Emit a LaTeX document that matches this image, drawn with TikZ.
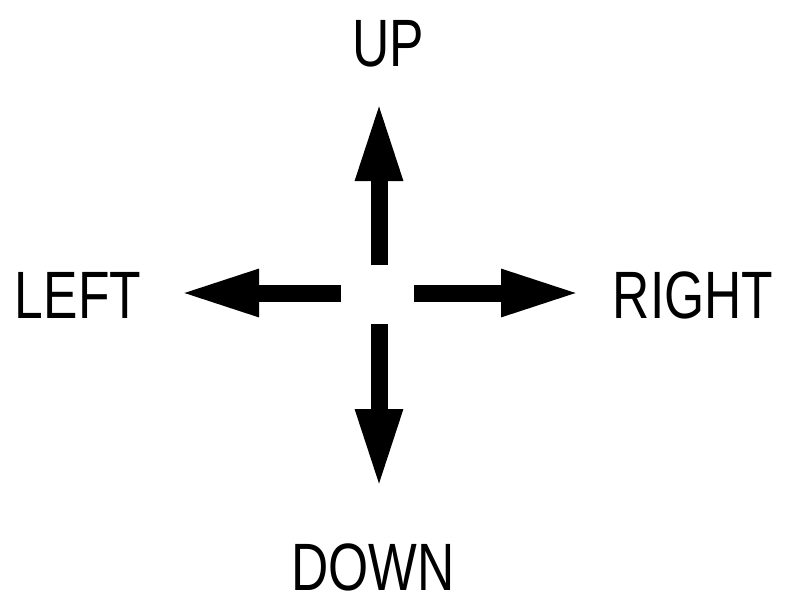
\documentclass[tikz,border=0pt]{standalone}
\usepackage{fontspec}
\setmainfont{Liberation Sans}[FakeStretch=0.77]
\usetikzlibrary{arrows.meta}
\tikzset{
  lbl/.style={inner sep=0pt, font=\fontsize{67}{67}\selectfont, text=black},
  bigarrow/.style={line width=17pt, -{Triangle[length=80pt,width=43pt]}, black}
}
\begin{document}
\begin{tikzpicture}[x=1pt,y=-1pt]
\useasboundingbox (0,0) rectangle (786,599);
\node[lbl] (up) at (388,44) {UP};
\node[lbl] (left) at (78,295) {LEFT};
\node[lbl] (right) at (693,295) {RIGHT};
\node[lbl] (down) at (373,567) {DOWN};
\coordinate (us) at (379,265);
\coordinate (ut) at (379,101);
\coordinate (ls) at (341,293);
\coordinate (lt) at (179,293);
\coordinate (rs) at (414,293);
\coordinate (rt) at (581,293);
\coordinate (ds) at (379,324);
\coordinate (dt) at (379,489);
\draw[bigarrow] (us) -- (ut);
\draw[bigarrow] (ls) -- (lt);
\draw[bigarrow] (rs) -- (rt);
\draw[bigarrow] (ds) -- (dt);
\end{tikzpicture}
\end{document}
